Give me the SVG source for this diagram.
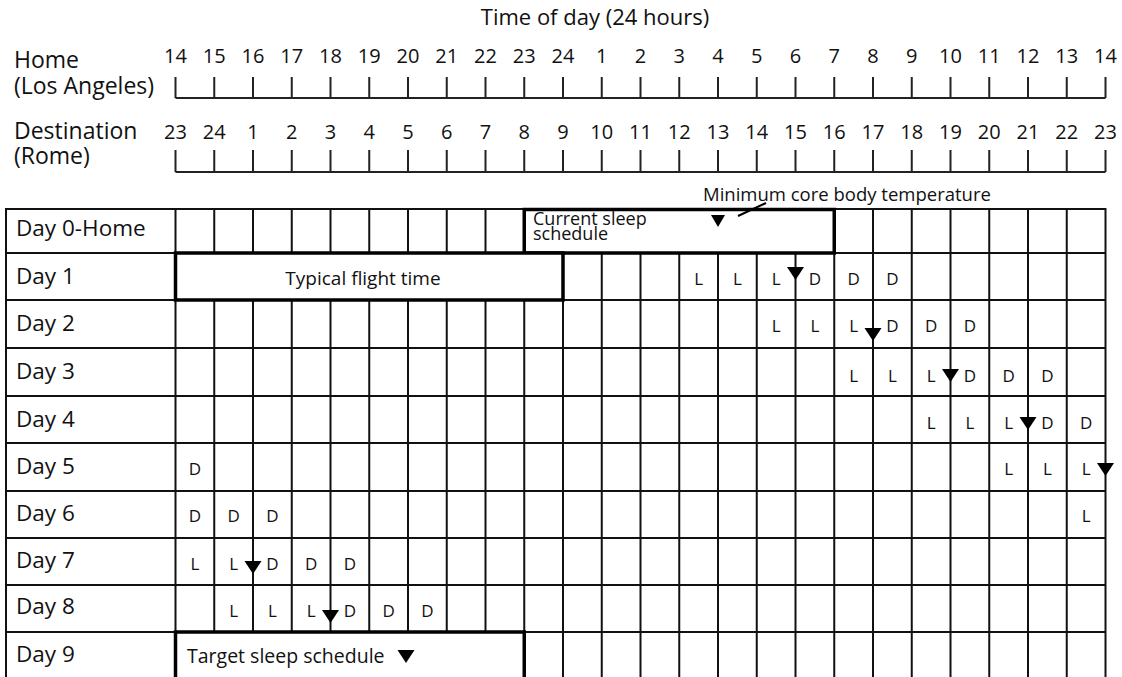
<svg xmlns="http://www.w3.org/2000/svg" xmlns:xlink="http://www.w3.org/1999/xlink" width="1122" height="677" viewBox="0 0 1122 677">
<style>
text{font-family:"Open Sans","Noto Sans","Liberation Sans",sans-serif;fill:#111}
.lbl{font-size:22.5px}
.hdr{font-size:23px}
.num{font-size:20px;text-anchor:middle}
.ttl{font-size:22px;text-anchor:middle}
.cel{font-size:17px;text-anchor:middle}
.grid{stroke:#111;stroke-width:2;fill:none}
.thick{stroke:#000;stroke-width:3.5;fill:#fff}
.tick{stroke:#222;stroke-width:2;fill:none}
</style>
<defs>
<path id="tri" d="M-8.5,0 L8.5,0 L0,13 Z" fill="#000"/>
<path id="trs" d="M-7,0 L7,0 L0,12 Z" fill="#000"/>
</defs>
<rect width="1122" height="677" fill="#fff"/>

<g id="header">
<text class="ttl" x="595" y="25">Time of day (24 hours)</text>
<text class="hdr" x="14" y="68">Home</text>
<text class="hdr" x="14" y="94">(Los Angeles)</text>
<text class="hdr" x="14" y="139">Destination</text>
<text class="hdr" x="14" y="164">(Rome)</text>
<g id="home-numbers">
<text class="num" x="175.5" y="63">14</text><text class="num" x="214.25" y="63">15</text><text class="num" x="253" y="63">16</text><text class="num" x="291.75" y="63">17</text><text class="num" x="330.5" y="63">18</text><text class="num" x="369.25" y="63">19</text><text class="num" x="408" y="63">20</text><text class="num" x="446.75" y="63">21</text><text class="num" x="485.5" y="63">22</text><text class="num" x="524.25" y="63">23</text><text class="num" x="563" y="63">24</text><text class="num" x="601.75" y="63">1</text><text class="num" x="640.5" y="63">2</text><text class="num" x="679.25" y="63">3</text><text class="num" x="718" y="63">4</text><text class="num" x="756.75" y="63">5</text><text class="num" x="795.5" y="63">6</text><text class="num" x="834.25" y="63">7</text><text class="num" x="873" y="63">8</text><text class="num" x="911.75" y="63">9</text><text class="num" x="950.5" y="63">10</text><text class="num" x="989.25" y="63">11</text><text class="num" x="1028" y="63">12</text><text class="num" x="1066.75" y="63">13</text><text class="num" x="1105.5" y="63">14</text>
</g>
<path class="tick" d="M175.5,98 H1105.5 M175.5,77 V98 M214.25,77 V98 M253,77 V98 M291.75,77 V98 M330.5,77 V98 M369.25,77 V98 M408,77 V98 M446.75,77 V98 M485.5,77 V98 M524.25,77 V98 M563,77 V98 M601.75,77 V98 M640.5,77 V98 M679.25,77 V98 M718,77 V98 M756.75,77 V98 M795.5,77 V98 M834.25,77 V98 M873,77 V98 M911.75,77 V98 M950.5,77 V98 M989.25,77 V98 M1028,77 V98 M1066.75,77 V98 M1105.5,77 V98"/>
<g id="dest-numbers">
<text class="num" x="175.5" y="139">23</text><text class="num" x="214.25" y="139">24</text><text class="num" x="253" y="139">1</text><text class="num" x="291.75" y="139">2</text><text class="num" x="330.5" y="139">3</text><text class="num" x="369.25" y="139">4</text><text class="num" x="408" y="139">5</text><text class="num" x="446.75" y="139">6</text><text class="num" x="485.5" y="139">7</text><text class="num" x="524.25" y="139">8</text><text class="num" x="563" y="139">9</text><text class="num" x="601.75" y="139">10</text><text class="num" x="640.5" y="139">11</text><text class="num" x="679.25" y="139">12</text><text class="num" x="718" y="139">13</text><text class="num" x="756.75" y="139">14</text><text class="num" x="795.5" y="139">15</text><text class="num" x="834.25" y="139">16</text><text class="num" x="873" y="139">17</text><text class="num" x="911.75" y="139">18</text><text class="num" x="950.5" y="139">19</text><text class="num" x="989.25" y="139">20</text><text class="num" x="1028" y="139">21</text><text class="num" x="1066.75" y="139">22</text><text class="num" x="1105.5" y="139">23</text>
</g>
<path class="tick" d="M175.5,172 H1105.5 M175.5,150 V172 M214.25,150 V172 M253,150 V172 M291.75,150 V172 M330.5,150 V172 M369.25,150 V172 M408,150 V172 M446.75,150 V172 M485.5,150 V172 M524.25,150 V172 M563,150 V172 M601.75,150 V172 M640.5,150 V172 M679.25,150 V172 M718,150 V172 M756.75,150 V172 M795.5,150 V172 M834.25,150 V172 M873,150 V172 M911.75,150 V172 M950.5,150 V172 M989.25,150 V172 M1028,150 V172 M1066.75,150 V172 M1105.5,150 V172"/>
</g>

<g id="grid">
<rect class="grid" x="6" y="209" width="1099.5" height="471"/>
<path class="grid" d="M6,253 H1105.5 M6,300 H1105.5 M6,348 H1105.5 M6,396 H1105.5 M6,443 H1105.5 M6,491 H1105.5 M6,538 H1105.5 M6,585 H1105.5 M6,632 H1105.5 M175.5,209 V680"/>
<path class="grid" d="M214.25,209 V253 M253,209 V253 M291.75,209 V253 M330.5,209 V253 M369.25,209 V253 M408,209 V253 M446.75,209 V253 M485.5,209 V253
M214.25,300 V632 M253,300 V632 M291.75,300 V632 M330.5,300 V632 M369.25,300 V632 M408,300 V632 M446.75,300 V632 M485.5,300 V632 M524.25,300 V632
M563,300 V680 M601.75,253 V680 M640.5,253 V680 M679.25,253 V680 M718,253 V680 M756.75,253 V680 M795.5,253 V680 M834.25,253 V680
M873,209 V680 M911.75,209 V680 M950.5,209 V680 M989.25,209 V680 M1028,209 V680 M1066.75,209 V680"/>
</g>

<g id="current-sleep">
<rect class="thick" x="524.25" y="209.5" width="310" height="43.5"/>
<text x="533" y="225" style="font-size:18px">Current sleep</text>
<text x="533" y="240" style="font-size:18px">schedule</text>
<use xlink:href="#trs" x="718" y="215"/>
</g>

<g id="flight">
<rect class="thick" x="175.5" y="253" width="387.5" height="47"/>
<text x="363" y="285" text-anchor="middle" style="font-size:19px">Typical flight time</text>
</g>

<g id="target">
<rect class="thick" x="175.5" y="632" width="348.75" height="50"/>
<text x="187" y="663" style="font-size:19.5px">Target sleep schedule</text>
<use xlink:href="#tri" x="406" y="650"/>
</g>

<g id="min-temp">
<text x="703" y="201" style="font-size:18.5px">Minimum core body temperature</text>
</g>

<g id="connectors">
<path d="M738,216 L766,203" stroke="#000" stroke-width="2" fill="none"/>
</g>

<g id="day0"><text class="lbl" x="16" y="236">Day 0-Home</text></g>
<g id="day1"><text class="lbl" x="16" y="284">Day 1</text>
<text class="cel" x="698.6" y="285">L</text><text class="cel" x="737.4" y="285">L</text><text class="cel" x="776.1" y="285">L</text><text class="cel" x="814.9" y="285">D</text><text class="cel" x="853.6" y="285">D</text><text class="cel" x="892.4" y="285">D</text>
<use xlink:href="#tri" x="795.5" y="267"/></g>
<g id="day2"><text class="lbl" x="16" y="331">Day 2</text>
<text class="cel" x="776.1" y="332">L</text><text class="cel" x="814.9" y="332">L</text><text class="cel" x="853.6" y="332">L</text><text class="cel" x="892.4" y="332">D</text><text class="cel" x="931.1" y="332">D</text><text class="cel" x="969.9" y="332">D</text>
<use xlink:href="#tri" x="873" y="328"/></g>
<g id="day3"><text class="lbl" x="16" y="379">Day 3</text>
<text class="cel" x="853.6" y="382">L</text><text class="cel" x="892.4" y="382">L</text><text class="cel" x="931.1" y="382">L</text><text class="cel" x="969.9" y="382">D</text><text class="cel" x="1008.6" y="382">D</text><text class="cel" x="1047.4" y="382">D</text>
<use xlink:href="#tri" x="950.5" y="369"/></g>
<g id="day4"><text class="lbl" x="16" y="427">Day 4</text>
<text class="cel" x="931.1" y="429">L</text><text class="cel" x="969.9" y="429">L</text><text class="cel" x="1008.6" y="429">L</text><text class="cel" x="1047.4" y="429">D</text><text class="cel" x="1086.1" y="429">D</text>
<use xlink:href="#tri" x="1028" y="417"/></g>
<g id="day5"><text class="lbl" x="16" y="474">Day 5</text>
<text class="cel" x="194.9" y="475">D</text>
<text class="cel" x="1008.6" y="475">L</text><text class="cel" x="1047.4" y="475">L</text><text class="cel" x="1086.1" y="475">L</text>
<use xlink:href="#tri" x="1105.5" y="463"/></g>
<g id="day6"><text class="lbl" x="16" y="521">Day 6</text>
<text class="cel" x="194.9" y="522">D</text><text class="cel" x="233.6" y="522">D</text><text class="cel" x="272.4" y="522">D</text>
<text class="cel" x="1086.1" y="522">L</text></g>
<g id="day7"><text class="lbl" x="16" y="568">Day 7</text>
<text class="cel" x="194.9" y="570">L</text><text class="cel" x="233.6" y="570">L</text><text class="cel" x="272.4" y="570">D</text><text class="cel" x="311.1" y="570">D</text><text class="cel" x="349.9" y="570">D</text>
<use xlink:href="#tri" x="253" y="561"/></g>
<g id="day8"><text class="lbl" x="16" y="614">Day 8</text>
<text class="cel" x="233.6" y="617">L</text><text class="cel" x="272.4" y="617">L</text><text class="cel" x="311.1" y="617">L</text><text class="cel" x="349.9" y="617">D</text><text class="cel" x="388.6" y="617">D</text><text class="cel" x="427.4" y="617">D</text>
<use xlink:href="#tri" x="330.5" y="610"/></g>
<g id="day9"><text class="lbl" x="16" y="662">Day 9</text></g>
</svg>
